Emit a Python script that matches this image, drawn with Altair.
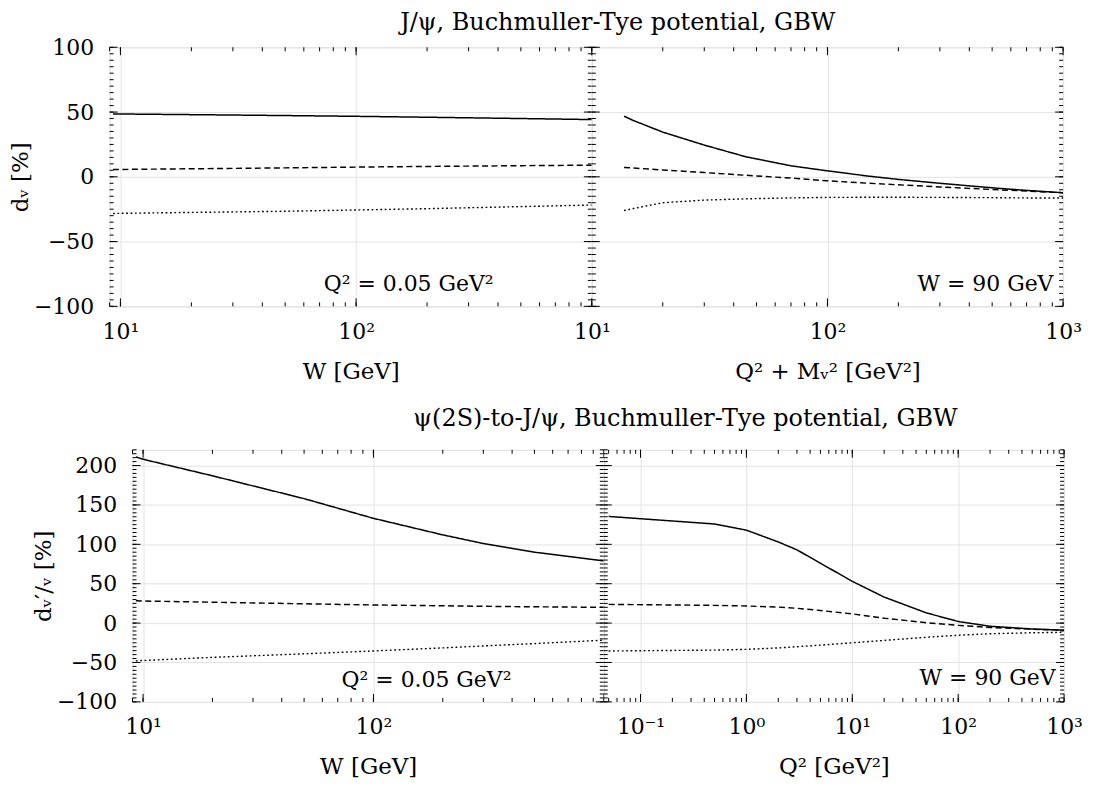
import altair as alt
import pandas as pd

FONT = "DejaVu Serif"
GRID = "#e3e3e3"
FS = 22        # tick labels, annotations
FS_AX = 23     # axis titles
FS_T = 24      # panel titles

# ---------------- data ----------------
SERIES = ["solid", "dashed", "dotted"]
DASHES = [[1, 0], [6, 3.5], [1.8, 2.6]]
WIDTHS = [1.5, 1.4, 1.9]

# top-left: d_V vs W, Q^2 = 0.05 GeV^2
TL_W = [9.3, 10, 20, 50, 100, 200, 500, 1000]
TL_SOLID = [48.6, 48.5, 48.0, 47.3, 46.7, 46.0, 45.0, 44.2]
TL_DASHED = [5.6, 5.7, 6.2, 6.9, 7.5, 8.0, 8.6, 9.0]
TL_DOTTED = [-28.3, -28.2, -27.5, -26.6, -25.6, -24.6, -23.0, -21.8]

# top-right: d_V vs Q^2 + M_V^2, W = 90 GeV
TR_X = [13.7, 15, 20, 30, 45, 70, 100, 150, 200, 300, 500, 700, 1000]
TR_SOLID = [46.8, 43.5, 34.5, 24.5, 15.5, 8.5, 4.6, 0.5, -2.0, -5.0, -8.5, -10.5, -12.3]
TR_DASHED = [7.2, 6.8, 5.3, 3.3, 1.2, -1.0, -3.1, -5.0, -6.2, -7.8, -9.8, -11.0, -12.3]
TR_DOTTED = [-26.0, -24.5, -20.0, -18.0, -17.0, -16.3, -15.9, -15.8, -15.8, -15.9, -16.1, -16.3, -16.4]

# bottom-left: d_{V'/V} vs W, Q^2 = 0.05 GeV^2
BL_W = [9.3, 10, 20, 50, 100, 200, 300, 500, 1000]
BL_SOLID = [211, 208, 187, 158, 133, 112, 101, 90, 79]
BL_DASHED = [28.3, 28.0, 26.5, 24.5, 23.0, 22.0, 21.3, 20.7, 20.0]
BL_DOTTED = [-48, -47.5, -43.5, -39, -35.4, -31.5, -29, -26, -21.7]

# bottom-right: d_{V'/V} vs Q^2, W = 90 GeV
BR_Q2 = [0.05, 0.5, 1, 2, 3, 5, 10, 20, 50, 100, 200, 500, 1000]
BR_SOLID = [135.4, 125.8, 118, 103, 93, 76, 53, 33, 13, 2, -4, -7.5, -9]
BR_DASHED = [23.75, 22.5, 21.7, 20.3, 18.8, 16, 11.7, 6.25, 0.5, -2.9, -5.5, -7.8, -9]
BR_DOTTED = [-35.4, -34.3, -33.3, -31.5, -30, -28, -25, -22, -18, -15.4, -13.5, -12.3, -11.7]

# axis tick values / labels
TL_XVALS, TL_XLABS = [10, 100], ["10¹", "10²"]
TR_XVALS, TR_XLABS = [10, 100, 1000], ["10¹", "10²", "10³"]
BL_XVALS, BL_XLABS = [10, 100], ["10¹", "10²"]
BR_XVALS, BR_XLABS = [0.1, 1, 10, 100, 1000], ["10⁻¹", "10⁰", "10¹", "10²", "10³"]
Y_TOP_VALS = [-100, -50, 0, 50, 100]
Y_BOT_VALS = [-100, -50, 0, 50, 100, 150, 200]
Y_MINOR_STEP = 5

TITLE_TOP = "J/ψ, Buchmuller-Tye potential, GBW"
TITLE_BOT = "ψ(2S)-to-J/ψ, Buchmuller-Tye potential, GBW"


def log_minor(lo, hi):
    out = []
    for e in range(-3, 5):
        for m in range(1, 10):
            v = m * 10.0 ** e
            if lo * 0.999 <= v <= hi * 1.001:
                out.append(v)
    return out


def label_expr(vals, labs):
    expr = "''"
    for v, l in zip(reversed(vals), reversed(labs)):
        expr = f"abs(datum.value - {v}) < {v}*1e-6 ? '{l}' : {expr}"
    return expr


def panel(x, solid, dashed, dotted, xdom, ydom, yvals, w, h, xvals, xlabs,
          xtitle, ytitle, annot, title=None):
    xs = alt.Scale(type="log", domain=xdom, nice=False)
    ys = alt.Scale(domain=ydom, nice=False, zero=False)
    n = len(x)
    df = pd.DataFrame({"x": list(x) * 3, "y": list(solid) + list(dashed) + list(dotted),
                       "s": ["solid"] * n + ["dashed"] * n + ["dotted"] * n})
    xaxis = alt.Axis(values=xvals, labelExpr=label_expr(xvals, xlabs), ticks=False,
                     domain=False, grid=True, gridColor=GRID, gridWidth=1,
                     labelFont=FONT, labelFontSize=FS, labelPadding=15, labelFlush=False,
                     labelColor="black", labelOverlap=False, title=xtitle, titleFont=FONT,
                     titleFontSize=FS_AX, titleFontWeight="normal", titlePadding=18,
                     titleColor="black")
    ykw = dict(values=yvals, ticks=False, domain=False, grid=True, gridColor=GRID,
               gridWidth=1)
    if ytitle is not None:
        ykw.update(labels=True, labelFont=FONT, labelFontSize=FS, labelPadding=16,
                   labelColor="black", labelFlush=False, labelOverlap=False,
                   title=ytitle, titleFont=FONT, titleFontSize=FS_AX,
                   titleFontWeight="normal", titlePadding=1, titleColor="black")
    else:
        ykw.update(labels=False, title=None)
    yaxis = alt.Axis(**ykw)

    lines = alt.Chart(df).mark_line(color="black", clip=True).encode(
        x=alt.X("x:Q", scale=xs, axis=xaxis),
        y=alt.Y("y:Q", scale=ys, axis=yaxis),
        strokeDash=alt.StrokeDash("s:N", scale=alt.Scale(domain=SERIES, range=DASHES),
                                  legend=None),
        strokeWidth=alt.StrokeWidth("s:N", scale=alt.Scale(domain=SERIES, range=WIDTHS),
                                    legend=None),
        detail="s:N",
    )
    layers = [lines]

    # inward ticks on all four sides
    xmaj = [v for v in [0.1, 1, 10, 100, 1000] if xdom[0] <= v <= xdom[1]]
    xmin = log_minor(*xdom)
    ymin = list(range(int(ydom[0]), int(ydom[1]) + 1, Y_MINOR_STEP))
    for vals, ln in [(xmaj, 8), (xmin, 4)]:
        d = pd.DataFrame({"x": vals})
        for top in (False, True):
            enc = dict(x=alt.X("x:Q", scale=xs, axis=xaxis))
            if top:
                enc.update(y=alt.value(0), y2=alt.value(ln))
            else:
                enc.update(y=alt.value(h), y2=alt.value(h - ln))
            layers.append(alt.Chart(d).mark_rule(color="black", strokeWidth=1).encode(**enc))
    for vals, ln in [(yvals, 8), (ymin, 4)]:
        d = pd.DataFrame({"y": vals})
        for right in (False, True):
            enc = dict(y=alt.Y("y:Q", scale=ys, axis=yaxis))
            if right:
                enc.update(x=alt.value(w), x2=alt.value(w - ln))
            else:
                enc.update(x=alt.value(0), x2=alt.value(ln))
            layers.append(alt.Chart(d).mark_rule(color="black", strokeWidth=1).encode(**enc))

    ax, ay, atext, aalign = annot
    layers.append(
        alt.Chart(pd.DataFrame({"x": [ax], "y": [ay], "t": [atext]}))
        .mark_text(font=FONT, fontSize=FS, align=aalign, baseline="alphabetic", color="black")
        .encode(x=alt.X("x:Q", scale=xs, axis=xaxis), y=alt.Y("y:Q", scale=ys, axis=yaxis),
                text="t:N")
    )
    if title is not None:
        ttext, tx, ty = title
        layers.append(
            alt.Chart(pd.DataFrame({"t": [ttext]}))
            .mark_text(font=FONT, fontSize=FS_T, align="center", baseline="middle", color="black")
            .encode(x=alt.value(tx), y=alt.value(ty), text="t:N")
        )
    return alt.layer(*layers).properties(width=w, height=h)


TL = panel(TL_W, TL_SOLID, TL_DASHED, TL_DOTTED, [9, 1000], [-100, 100], Y_TOP_VALS,
           484, 260, TL_XVALS, TL_XLABS, "W  [GeV]", "dᵥ [%]",
           (167, -88.5, "Q² = 0.05 GeV²", "center"), (TITLE_TOP, 510, -24))
TR = panel(TR_X, TR_SOLID, TR_DASHED, TR_DOTTED, [10, 1000], [-100, 100], Y_TOP_VALS,
           473, 260, TR_XVALS, TR_XLABS, "Q² + Mᵥ²  [GeV²]", None,
           (910, -88, "W = 90 GeV", "right"))
BL = panel(BL_W, BL_SOLID, BL_DASHED, BL_DOTTED, [9, 1000], [-100, 220], Y_BOT_VALS,
           473, 253, BL_XVALS, BL_XLABS, "W  [GeV]", "dᵥ′/ᵥ  [%]",
           (170, -81, "Q² = 0.05 GeV²", "center"), (TITLE_BOT, 555, -31))
BR = panel(BR_Q2, BR_SOLID, BR_DASHED, BR_DOTTED, [0.045, 1000], [-100, 220], Y_BOT_VALS,
           462, 253, BR_XVALS, BR_XLABS, "Q²  [GeV²]", None,
           (830, -79, "W = 90 GeV", "right"))

spacer = (
    alt.Chart(pd.DataFrame({"a": [0]}))
    .mark_point(opacity=0)
    .encode(x=alt.X("a:Q", axis=None), y=alt.Y("a:Q", axis=None))
    .properties(width=23, height=253, view=alt.ViewBackground(stroke="transparent"))
)

top = alt.hconcat(TL, TR, spacing=0, bounds="flush")
bottom = alt.hconcat(spacer, BL, BR, spacing=0, bounds="flush")

chart = (
    alt.vconcat(top, bottom, spacing=404, bounds="flush")
    .properties(padding={"left": 1, "top": 1, "right": 2, "bottom": 2})
    .configure_view(stroke="black", strokeWidth=1.5)
    .configure(background="white")
)

chart.save("out.html", embed_options={"renderer": "svg", "actions": False})
